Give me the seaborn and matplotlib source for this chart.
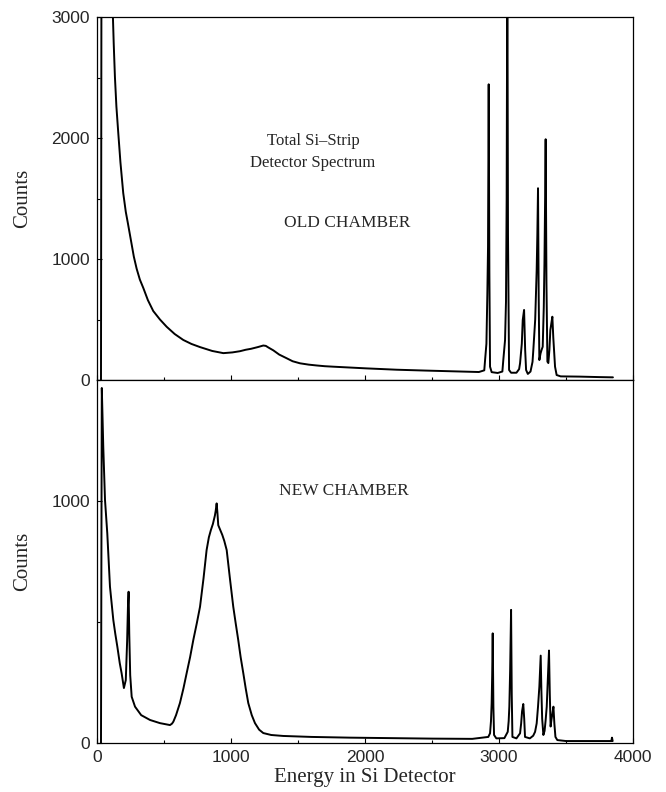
import matplotlib
matplotlib.use("Agg")
import matplotlib.pyplot as plt
from matplotlib.ticker import MultipleLocator
import seaborn as sns
import pandas as pd

# Old chamber spectrum (energy channel, counts)
old_energy = [30, 34, 36, 119, 125, 134, 145, 159, 175, 196, 215, 230, 259, 275, 296, 320, 346,
              380, 420, 470, 520, 580, 644, 705, 769, 860, 943, 1010, 1067, 1110, 1150, 1200,
              1241, 1260, 1280, 1316, 1360, 1415, 1460, 1515, 1580, 1640, 1700, 1764, 2012, 2236,
              2450, 2650, 2850, 2890, 2896, 2906, 2913, 2918, 2923, 2928, 2933, 2945, 2990,
              3025, 3032, 3045, 3052, 3057, 3062, 3067, 3075, 3090, 3130, 3150, 3157, 3170,
              3177, 3187, 3195, 3202, 3215, 3235, 3250, 3256, 3270, 3281, 3286, 3291, 3296,
              3301, 3310, 3318, 3326, 3334, 3339, 3344, 3348, 3354, 3361, 3368, 3376, 3383,
              3392, 3398, 3405, 3418, 3430, 3460, 3600, 3750, 3850]
old_counts = [0, 4000, 5000, 3000, 2780, 2504, 2260, 2041, 1800, 1545, 1390, 1300, 1120, 1020, 920, 830, 760,
              660, 570, 500, 440, 380, 331, 298, 272, 240, 222, 228, 238, 250, 258, 272,
              285, 282, 268, 245, 210, 180, 155, 138, 127, 120, 114, 110, 96, 85,
              78, 72, 66, 80, 165, 300, 716, 1100, 2444, 900, 110, 65, 58,
              70, 165, 330, 647, 1500, 3600, 1200, 83, 60, 60, 90, 138, 300,
              496, 579, 250, 83, 50, 70, 150, 248, 500, 909, 1200, 1585, 700,
              165, 220, 250, 275, 600, 964, 1500, 1990, 800, 152, 140, 250, 413,
              480, 523, 350, 110, 41, 30, 28, 24, 22]

# New chamber spectrum
new_energy = [30, 34, 36, 40, 47, 60, 77, 97, 122, 137, 152, 170, 184, 201, 215, 225, 231, 236, 241,
              248, 259, 284, 330, 396, 470, 545, 560, 570, 590, 619, 645, 669, 695, 719, 745, 769,
              795, 818, 835, 850, 865, 880, 886, 893, 899, 905, 920, 935, 950, 968, 992, 1017,
              1035, 1054, 1072, 1092, 1110, 1129, 1155, 1179, 1210, 1241, 1300, 1390, 1600,
              1888, 2200, 2500, 2800, 2920, 2933, 2940, 2945, 2949, 2953, 2958, 2963, 2980,
              3040, 3065, 3072, 3077, 3083, 3090, 3095, 3100, 3130, 3157, 3165, 3172, 3181,
              3188, 3194, 3230, 3255, 3269, 3281, 3291, 3301, 3311, 3316, 3322, 3331, 3340,
              3348, 3356, 3363, 3373, 3379, 3385, 3391, 3398, 3406, 3413, 3421, 3435, 3500,
              3650, 3800, 3838, 3843, 3848]
new_counts = [0, 1000, 1467, 1380, 1224, 1004, 866, 646, 508, 450, 398, 330, 288, 227, 260, 420, 560, 625, 450,
              280, 191, 150, 115, 95, 82, 74, 80, 88, 115, 165, 225, 288, 355, 426, 495, 563,
              680, 797, 850, 880, 905, 940, 960, 990, 950, 900, 880, 860, 835, 797, 680, 563,
              495, 426, 355, 288, 225, 165, 115, 82, 55, 41, 33, 29, 25,
              22, 20, 18, 17, 25, 40, 90, 164, 280, 453, 150, 33, 19,
              20, 46, 90, 150, 300, 550, 200, 25, 19, 40, 80, 131, 161,
              100, 25, 19, 30, 46, 81, 150, 233, 361, 219, 100, 33, 50,
              95, 150, 247, 382, 200, 68, 95, 120, 150, 80, 25, 12, 8,
              8, 8, 8, 22, 8]

old_df = pd.DataFrame({"Energy": old_energy, "Counts": old_counts})
new_df = pd.DataFrame({"Energy": new_energy, "Counts": new_counts})

sns.set_style("ticks")
serif = "Liberation Serif"
sans = "Liberation Sans"

fig = plt.figure(figsize=(6.66, 7.92), dpi=100)
ax_top = fig.add_axes([0.1456, 0.5202, 0.8049, 0.4583])
ax_bot = fig.add_axes([0.1456, 0.0619, 0.8049, 0.4583])

sns.lineplot(data=old_df, x="Energy", y="Counts", ax=ax_top, sort=False,
             color="black", linewidth=1.4)
sns.lineplot(data=new_df, x="Energy", y="Counts", ax=ax_bot, sort=False,
             color="black", linewidth=1.4)

ax_top.set_ylim(0, 3000)
ax_bot.set_ylim(0, 1500)
for ax in (ax_top, ax_bot):
    ax.set_xlim(0, 4000)
    ax.xaxis.set_major_locator(MultipleLocator(1000))
    ax.xaxis.set_minor_locator(MultipleLocator(500))
    ax.yaxis.set_major_locator(MultipleLocator(1000))
    ax.yaxis.set_minor_locator(MultipleLocator(500))
    ax.tick_params(which="both", direction="in", color="black", width=0.8)
    ax.tick_params(which="major", length=3.5, pad=5, labelsize=12.5)
    ax.tick_params(which="minor", length=2)
    for lab in ax.get_xticklabels() + ax.get_yticklabels():
        lab.set_fontfamily(sans)
    for sp in ax.spines.values():
        sp.set_visible(True)
        sp.set_linewidth(0.9)
        sp.set_color("black")
    ax.set_ylabel("Counts", fontsize=15, fontfamily=serif)
    ax.yaxis.set_label_coords(-0.121, 0.5)

ax_top.tick_params(axis="x", labelbottom=False)
ax_top.set_xlabel("")
ax_bot.set_xlabel("Energy in Si Detector", fontsize=15, fontfamily=serif, labelpad=2)

ax_top.text(1612, 1884, "Total Si\u2013Strip\nDetector Spectrum", ha="center", va="center",
            fontsize=12, fontfamily=serif, linespacing=1.5)
ax_top.text(1866, 1298, "OLD CHAMBER", ha="center", va="center", fontsize=12.5, fontfamily=serif)
ax_bot.text(1843, 1041, "NEW CHAMBER", ha="center", va="center", fontsize=12.5, fontfamily=serif)

fig.savefig("out.png", dpi=100)
